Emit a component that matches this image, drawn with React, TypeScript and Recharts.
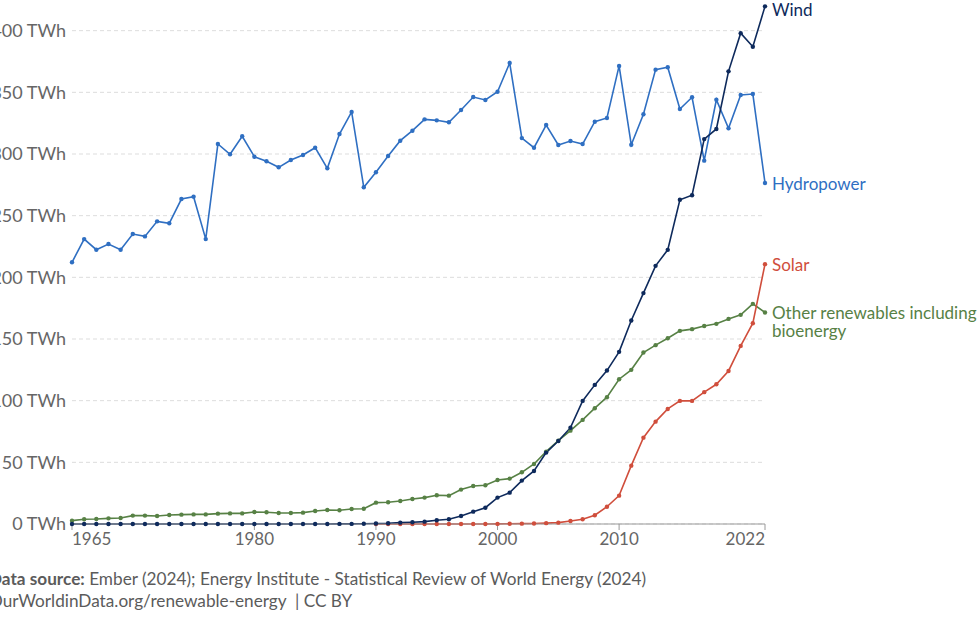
import React from 'react';
import { LineChart, Line, XAxis, YAxis, CartesianGrid } from 'recharts';

const years = [
  1965, 1966, 1967, 1968, 1969, 1970, 1971, 1972, 1973, 1974,
  1975, 1976, 1977, 1978, 1979, 1980, 1981, 1982, 1983, 1984,
  1985, 1986, 1987, 1988, 1989, 1990, 1991, 1992, 1993, 1994,
  1995, 1996, 1997, 1998, 1999, 2000, 2001, 2002, 2003, 2004,
  2005, 2006, 2007, 2008, 2009, 2010, 2011, 2012, 2013, 2014,
  2015, 2016, 2017, 2018, 2019, 2020, 2021, 2022,
];

const hydropower = [
  212.2, 231, 222.4, 227, 222.4, 235.1, 233.2, 245.4, 243.8, 263.5,
  265.4, 231, 308.1, 299.8, 314.4, 297.8, 294.1, 289.2, 295.1, 299.2,
  305.1, 288.4, 316.2, 334.1, 273, 285.2, 298.4, 310.8, 318.9, 328.1,
  327.3, 325.7, 335.7, 346.2, 343.8, 350.5, 373.8, 312.9, 305.1, 323.5,
  307.3, 310.5, 308.1, 326.2, 329.2, 371.4, 307.5, 332.2, 368.4, 370.3,
  336.5, 346, 294.6, 344, 320.8, 347.8, 348.6, 276.5,
];

const wind = [
  0, 0, 0, 0, 0, 0, 0, 0, 0, 0,
  0, 0, 0, 0, 0, 0, 0, 0, 0, 0,
  0, 0, 0.1, 0.1, 0.2, 0.4, 0.6, 1.1, 1.4, 1.9,
  3, 3.8, 6.5, 10, 13.2, 21.4, 25.4, 35.2, 43, 57.9,
  67.3, 78.1, 99.8, 112.8, 124.4, 139.6, 165, 187.2, 209.3, 222.3,
  262.9, 266.6, 312.1, 320.3, 367, 398, 387, 419.7,
];

const solar = [
  null, null, null, null, null, null, null, null, null, null,
  null, null, null, null, null, null, null, null, null, null,
  null, null, null, null, null, 0, 0, 0, 0, 0,
  0, 0, 0, 0, 0, 0.1, 0.2, 0.3, 0.4, 0.7,
  1.1, 2.4, 3.8, 7.1, 14, 23, 47.3, 70, 83, 93.3,
  99.8, 99.8, 106.9, 113.3, 124.1, 144.4, 162.8, 210.7,
];

const otherRenewables = [
  2.7, 3.8, 4.0, 4.6, 4.9, 6.8, 6.8, 6.5, 7.3, 7.6,
  7.8, 7.8, 8.4, 8.6, 8.6, 9.7, 9.5, 8.9, 8.9, 9.2,
  10.5, 11.4, 11.2, 12.2, 12.4, 17.3, 17.6, 18.7, 20.3, 21.4,
  23.3, 23, 27.9, 30.8, 31.4, 35.7, 36.8, 41.9, 48.7, 58.7,
  67.6, 75.7, 84.4, 93.9, 102.8, 117.4, 125, 139, 145, 150.6,
  156.6, 158, 160.6, 162.3, 166.3, 169.6, 178.5, 171.5,
];

const xTicks = [1965, 1980, 1990, 2000, 2010, 2022];
const yTicks = [0, 50, 100, 150, 200, 250, 300, 350, 400, 450];

const seriesNames = ['Other renewables including bioenergy', 'Solar', 'Hydropower', 'Wind'];

const data = years.map((year, i) => ({
  year,
  other: otherRenewables[i],
  solar: solar[i],
  hydro: hydropower[i],
  wind: wind[i],
}));

const COLORS = {
  wind: '#0e2a5c',
  hydro: '#2f6fc2',
  solar: '#d04e3c',
  other: '#578145',
};

const FONT = 'Lato, "Noto Sans", sans-serif';
const LAST = years.length - 1;

const makeLabel = (lines: string[], color: string, dy: number) => (props: any) => {
  const { x, y, index } = props;
  if (index !== LAST) return null;
  return (
    <text
      x={x + 7}
      y={y + dy}
      fill={color}
      fontSize={17}
      fontFamily={FONT}
      dominantBaseline="central"
    >
      {lines.map((l, i) => (
        <tspan key={i} x={x + 7} dy={i === 0 ? 0 : 17.5}>
          {l}
        </tspan>
      ))}
    </text>
  );
};

const XTick = (props: any) => {
  const { x, y, payload, index } = props;
  const anchor = index === 0 ? 'start' : index === xTicks.length - 1 ? 'end' : 'middle';
  return (
    <text
      x={x}
      y={y}
      dy="0.71em"
      textAnchor={anchor}
      fill="#666666"
      fontSize={17}
      fontFamily={FONT}
    >
      {payload.value}
    </text>
  );
};

export default function App() {
  return (
    <div style={{ position: 'absolute', left: 0, top: 0, width: 977, height: 619, overflow: 'hidden', background: '#fff' }}>
      <div style={{ position: 'absolute', left: -30, top: -31 }}>
        <LineChart
          width={1007}
          height={595}
          data={data}
          margin={{ top: 0, right: 212, bottom: 0, left: 0 }}
        >
          <CartesianGrid vertical={false} stroke="#dddddd" strokeDasharray="4 3" />
          <XAxis
            dataKey="year"
            type="number"
            domain={[1965, 2022]}
            ticks={xTicks}
            height={40}
            stroke="#999999"
            tickSize={6}
            tickMargin={3}
            tick={<XTick />}
            interval={0}
          />
          <YAxis
            type="number"
            domain={[0, 450]}
            ticks={yTicks}
            width={102}
            axisLine={false}
            tickLine={false}
            tickSize={0}
            tickMargin={6}
            tickFormatter={(v: number) => `${v} TWh`}
            tick={{ fill: '#666666', fontSize: 18, fontFamily: FONT }}
            interval={0}
          />
          <Line
            dataKey="other"
            name={seriesNames[0]}
            stroke={COLORS.other}
            strokeWidth={1.6}
            dot={{ r: 2.2, fill: COLORS.other, stroke: 'none' }}
            isAnimationActive={false}
            label={makeLabel(['Other renewables including', 'bioenergy'], COLORS.other, 0)}
          />
          <Line
            dataKey="solar"
            name={seriesNames[1]}
            stroke={COLORS.solar}
            strokeWidth={1.6}
            dot={{ r: 2.2, fill: COLORS.solar, stroke: 'none' }}
            isAnimationActive={false}
            label={makeLabel(['Solar'], COLORS.solar, 0)}
          />
          <Line
            dataKey="hydro"
            name={seriesNames[2]}
            stroke={COLORS.hydro}
            strokeWidth={1.6}
            dot={{ r: 2.2, fill: COLORS.hydro, stroke: 'none' }}
            isAnimationActive={false}
            label={makeLabel(['Hydropower'], COLORS.hydro, 0)}
          />
          <Line
            dataKey="wind"
            name={seriesNames[3]}
            stroke={COLORS.wind}
            strokeWidth={1.6}
            dot={{ r: 2.2, fill: COLORS.wind, stroke: 'none' }}
            isAnimationActive={false}
            label={makeLabel(['Wind'], COLORS.wind, 3)}
          />
        </LineChart>
      </div>
      <div
        style={{
          position: 'absolute',
          left: -11,
          top: 568,
          fontFamily: FONT,
          fontSize: 17.2,
          color: '#5b5b5b',
          whiteSpace: 'nowrap',
          lineHeight: '22px',
        }}
      >
        <div>
          <b>Data source:</b> Ember (2024); Energy Institute - Statistical Review of World Energy (2024)
        </div>
        <div>OurWorldinData.org/renewable-energy&nbsp; | CC BY</div>
      </div>
    </div>
  );
}
